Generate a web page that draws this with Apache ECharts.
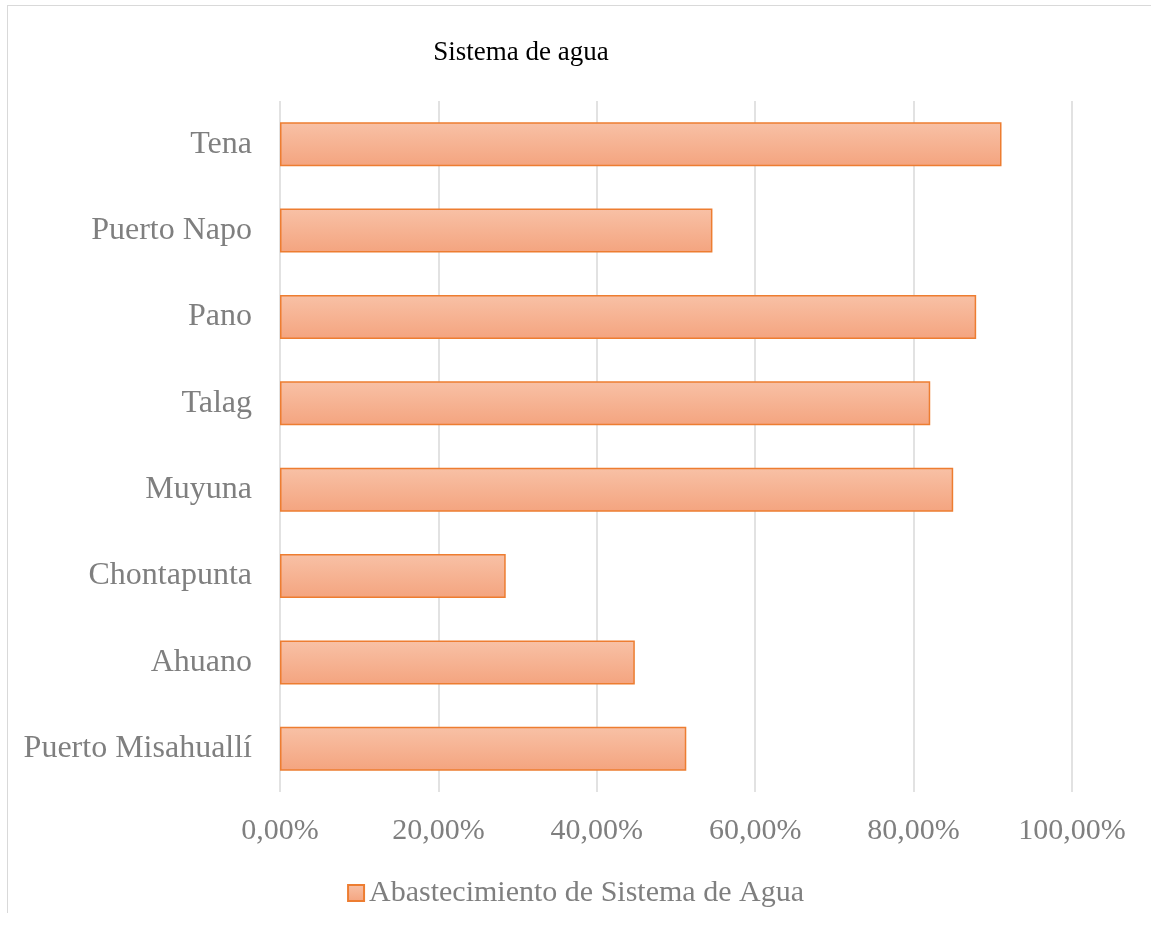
<!DOCTYPE html>
<html>
<head>
<meta charset="utf-8">
<script src="https://cdn.jsdelivr.net/npm/echarts@6/dist/echarts.min.js"></script>
<style>
  body { margin: 0; background: #fff; }
  #frame {
    position: absolute; left: 7px; top: 5px; width: 1200px; height: 907px;
    border-top: 1px solid #d9d9d9; border-left: 1px solid #d9d9d9;
  }
  #main { position: absolute; left: 0; top: 0; width: 1151px; height: 926px; }
</style>
</head>
<body>
<div id="frame"></div>
<div id="main"></div>
<script>
// categories, top to bottom
const categories = ["Tena", "Puerto Napo", "Pano", "Talag", "Muyuna", "Chontapunta", "Ahuano", "Puerto Misahuallí"];
// percent values
const values = [91.1, 54.6, 87.9, 82.1, 85.0, 28.5, 44.8, 51.3];
const seriesName = "Abastecimiento de Sistema de Agua";

const font = "'Liberation Serif', 'Times New Roman', serif";
const gray = "#7f7f7f";

const myChart = echarts.init(document.getElementById("main"));

const barFill = new echarts.graphic.LinearGradient(0, 0, 0, 1, [
  { offset: 0, color: "#f8c1a6" },
  { offset: 1, color: "#f4a47f" },
]);

const options = {
  animation: false,
  title: {
    text: "Sistema de agua",
    left: 516,
    textAlign: "center",
    top: 34,
    textStyle: { fontFamily: font, fontSize: 27, fontWeight: "normal", color: "#000" },
  },
  legend: {
    data: [seriesName],
    bottom: 13,
    left: "center",
    icon: "rect",
    itemWidth: 16,
    itemHeight: 16,
    textStyle: { fontFamily: font, fontSize: 30, color: gray },
  },
  grid: {
    left: 280,
    right: 79,
    top: 101,
    bottom: 134,
    containLabel: false,
  },
  xAxis: {
    type: "value",
    min: 0,
    max: 100,
    interval: 20,
    axisLine: { show: false },
    axisTick: { show: false },
    splitLine: { lineStyle: { color: "#d9d9d9", width: 1.5 } },
    axisLabel: {
      margin: 24,
      fontFamily: font,
      fontSize: 30,
      color: gray,
      formatter: (v) => v.toFixed(2).replace(".", ",") + "%",
    },
  },
  yAxis: {
    type: "category",
    inverse: true,
    data: categories,
    axisLine: { show: false },
    axisTick: { show: false },
    axisLabel: { margin: 28, fontFamily: font, fontSize: 32, color: gray },
  },
  series: [
    {
      name: seriesName,
      type: "bar",
      data: values,
      barWidth: 44,
      itemStyle: { color: barFill, borderColor: "#ed7d31", borderWidth: 1.5 },
    },
  ],
};

myChart.setOption(options);
</script>
</body>
</html>
